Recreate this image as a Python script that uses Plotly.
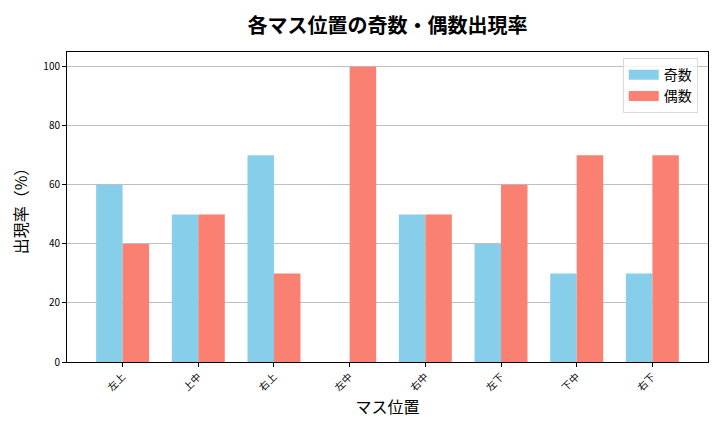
import plotly.graph_objects as go

positions = ["左上", "上中", "右上", "左中", "右中", "左下", "下中", "右下"]
odd_pct = [60, 50, 70, 0, 50, 40, 30, 30]
even_pct = [40, 50, 30, 100, 50, 60, 70, 70]

FONT = "Noto Sans CJK JP"
SKY = "#87CEEB"
SALMON = "#FA8072"

fig = go.Figure()
fig.add_trace(go.Bar(x=positions, y=odd_pct, name="奇数", showlegend=False,
                     marker=dict(color=SKY, line=dict(width=0))))
fig.add_trace(go.Bar(x=positions, y=even_pct, name="偶数", showlegend=False,
                     marker=dict(color=SALMON, line=dict(width=0))))
# legend entries drawn as wide patches, like matplotlib's
for name, col in [("奇数", SKY), ("偶数", SALMON)]:
    fig.add_trace(go.Scatter(x=[None], y=[None], mode="lines", name=name,
                             line=dict(color=col, width=12)))

fig.update_layout(
    width=720, height=432,
    paper_bgcolor="white", plot_bgcolor="white",
    font=dict(family=FONT, color="black"),
    barmode="group", bargap=0.3, bargroupgap=0,
    margin=dict(l=59, r=20, t=44, b=78, autoexpand=False),
    title=dict(text="<b>各マス位置の奇数・偶数出現率</b>", x=0.5, xref="paper", xanchor="center",
               y=0.975, yanchor="top", font=dict(size=20, family=FONT)),
    xaxis=dict(
        title=dict(text="マス位置", font=dict(size=16), standoff=4),
        range=[-0.735, 7.735], tickangle=-45, tickfont=dict(size=10),
        showline=True, linecolor="black", linewidth=1, mirror=True,
        ticks="outside", ticklen=4, tickcolor="black", showgrid=False,
        automargin=False,
    ),
    yaxis=dict(
        title=dict(text="出現率（%）", font=dict(size=16), standoff=14),
        range=[0, 105], tickvals=[0, 20, 40, 60, 80, 100], tickfont=dict(size=10),
        showline=True, linecolor="black", linewidth=1, mirror=True,
        ticks="outside", ticklen=4, tickcolor="black",
        showgrid=True, gridcolor="#bfbfbf", gridwidth=1, zeroline=False,
        automargin=False,
    ),
    legend=dict(x=0.984, y=0.98, xanchor="right", yanchor="top",
                bordercolor="#d9d9d9", borderwidth=1, bgcolor="rgba(255,255,255,0.8)",
                font=dict(size=14)),
)

fig.write_html("out.html")
